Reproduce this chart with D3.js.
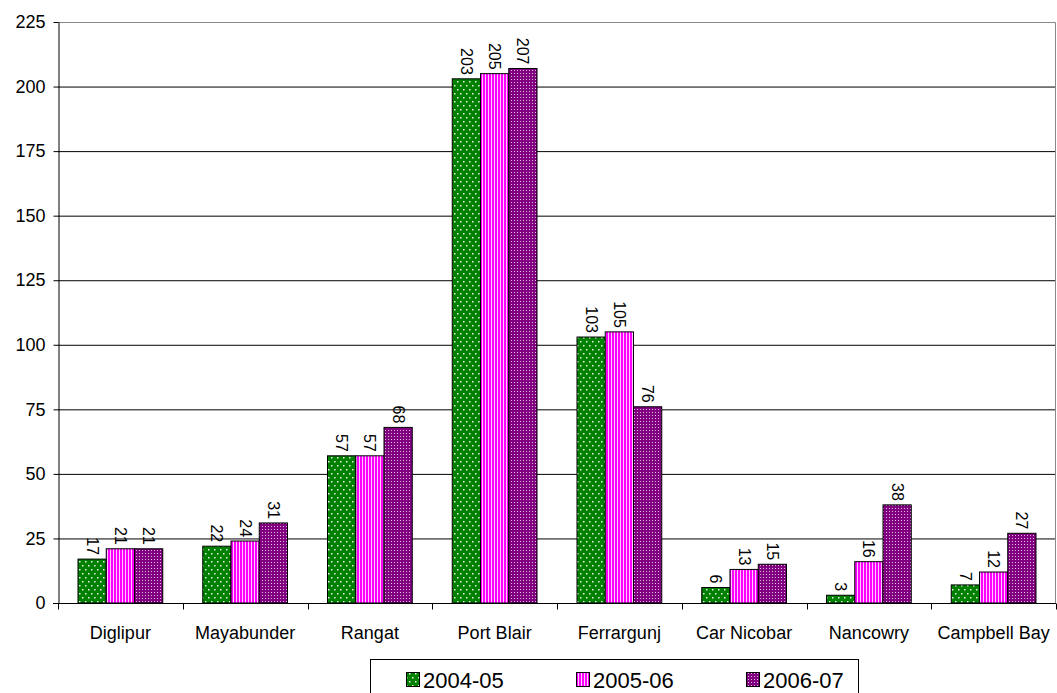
<!DOCTYPE html>
<html>
<head>
<meta charset="utf-8">
<script src="https://cdn.jsdelivr.net/npm/d3@7"></script>
<style>
body { margin: 0; background: #fff; }
text { font-family: Arial, "Liberation Sans", sans-serif; }
</style>
</head>
<body>
<script>
var categories = ["Diglipur", "Mayabunder", "Rangat", "Port Blair", "Ferrargunj", "Car Nicobar", "Nancowry", "Campbell Bay"]
var seriesNames = ["2004-05", "2005-06", "2006-07"]
var values0405 = [17, 22, 57, 203, 103, 6, 3, 7]
var values0506 = [21, 24, 57, 205, 105, 13, 16, 12]
var values0607 = [21, 31, 68, 207, 76, 15, 38, 27]
var yTicks = [0, 25, 50, 75, 100, 125, 150, 175, 200, 225]

var allValues = [values0405, values0506, values0607]
var fills = ["url(#pGreen)", "url(#pPink)", "url(#pPurple)"]

var width = 1057, height = 693
var margin = {top: 22, right: 1, bottom: 90, left: 58}

var svg = d3.select("body").append("svg")
    .attr("width", width)
    .attr("height", height)

// motivi di riempimento delle barre
var defs = svg.append("defs")
var pg = defs.append("pattern").attr("id", "pGreen").attr("patternUnits", "userSpaceOnUse")
    .attr("width", 6).attr("height", 8)
pg.append("rect").attr("width", 6).attr("height", 8).attr("fill", "#008000")
pg.append("rect").attr("x", 1).attr("y", 1).attr("width", 1.5).attr("height", 1.5).attr("fill", "#e8f4e8")
pg.append("rect").attr("x", 4).attr("y", 5).attr("width", 1.5).attr("height", 1.5).attr("fill", "#e8f4e8")

var pp = defs.append("pattern").attr("id", "pPink").attr("patternUnits", "userSpaceOnUse")
    .attr("width", 3).attr("height", 4)
pp.append("rect").attr("width", 3).attr("height", 4).attr("fill", "#ff00ff")
pp.append("rect").attr("x", 2).attr("width", 1).attr("height", 4).attr("fill", "#ffc8ff")

var pu = defs.append("pattern").attr("id", "pPurple").attr("patternUnits", "userSpaceOnUse")
    .attr("width", 3).attr("height", 3)
pu.append("rect").attr("width", 3).attr("height", 3).attr("fill", "#800080")
pu.append("rect").attr("x", 1).attr("y", 1).attr("width", 1).attr("height", 1).attr("fill", "#e0b8e0")

var x0 = d3.scaleBand().domain(categories)
    .range([margin.left, width - margin.right])
var x1 = d3.scaleBand().domain(seriesNames)
    .range([20, x0.bandwidth() - 20])
var y = d3.scaleLinear().domain([0, 225])
    .range([height - margin.bottom, margin.top])

// linee della griglia
svg.append("g")
    .selectAll("line")
    .data(yTicks.slice(1, -1))
    .join("line")
    .attr("x1", margin.left).attr("x2", width - margin.right)
    .attr("y1", d => y(d) + 0.5).attr("y2", d => y(d) + 0.5)
    .attr("stroke", "#000")

// bordo del riquadro
svg.append("path")
    .attr("d", "M" + margin.left + "," + (y(225) + 0.5) + "H" + (width - margin.right - 0.5) + "V" + y(0))
    .attr("fill", "none")
    .attr("stroke", "#888")
    .attr("stroke-width", 1)

// barre
seriesNames.forEach(function(s, i) {
    var g = svg.append("g")
    g.selectAll("rect")
        .data(allValues[i])
        .join("rect")
        .attr("x", (d, j) => x0(categories[j]) + x1(s))
        .attr("y", d => y(d))
        .attr("width", x1.bandwidth())
        .attr("height", d => y(0) - y(d))
        .attr("fill", fills[i])
        .attr("stroke", "#000")
        .attr("stroke-width", 1)
    g.selectAll("text")
        .data(allValues[i])
        .join("text")
        .attr("transform", (d, j) => "translate(" + (x0(categories[j]) + x1(s) + x1.bandwidth() / 2) + "," + (y(d) - 4) + ") rotate(90)")
        .attr("text-anchor", "end")
        .attr("dy", "0.35em")
        .attr("font-size", 16)
        .text(d => d)
})

// asse y
var yAxis = svg.append("g")
    .attr("transform", "translate(" + (margin.left + 0.5) + ",0)")
    .call(d3.axisLeft(y).tickValues(yTicks).tickSize(5).tickSizeOuter(0))
yAxis.select(".domain").attr("stroke", "#000")
yAxis.selectAll("text").attr("font-size", 18).attr("font-family", "Arial, 'Liberation Sans', sans-serif")
    .attr("fill", "#000").attr("x", -13)

// asse x
var xAxis = svg.append("g")
    .attr("transform", "translate(0," + (y(0) + 0.5) + ")")
xAxis.append("line")
    .attr("x1", margin.left - 5).attr("x2", width - margin.right)
    .attr("stroke", "#000")
xAxis.selectAll(".tk")
    .data(categories.concat(["end"]))
    .join("line")
    .attr("class", "tk")
    .attr("x1", (d, j) => Math.round(margin.left + j * x0.step()) + 0.5)
    .attr("x2", (d, j) => Math.round(margin.left + j * x0.step()) + 0.5)
    .attr("y1", 0).attr("y2", 6)
    .attr("stroke", "#000")
xAxis.selectAll("text")
    .data(categories)
    .join("text")
    .attr("x", d => x0(d) + x0.bandwidth() / 2)
    .attr("y", 35)
    .attr("text-anchor", "middle")
    .attr("font-size", 18)
    .text(d => d)

// legenda
var legend = svg.append("g")
legend.append("rect")
    .attr("x", 370.5).attr("y", 659.5)
    .attr("width", 488).attr("height", 40)
    .attr("fill", "#fff")
    .attr("stroke", "#000")
var legX = [406, 576, 746]
seriesNames.forEach(function(s, i) {
    legend.append("rect")
        .attr("x", legX[i] + 0.5).attr("y", 672.5)
        .attr("width", 13).attr("height", 14)
        .attr("fill", fills[i])
        .attr("stroke", "#000")
    legend.append("text")
        .attr("x", legX[i] + 17).attr("y", 688)
        .attr("font-size", 22)
        .text(s)
})
</script>
</body>
</html>
